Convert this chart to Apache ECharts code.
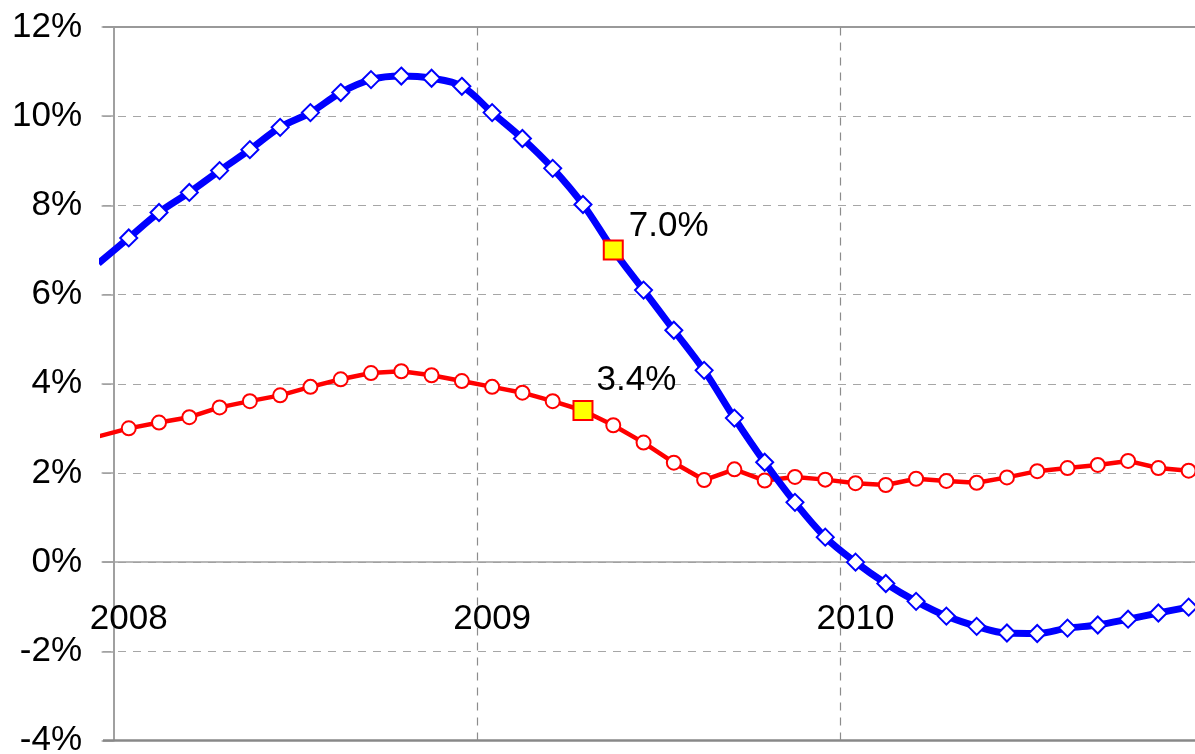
<!DOCTYPE html>
<html>
<head>
<meta charset="utf-8">
<script src="https://cdn.jsdelivr.net/npm/echarts@6/dist/echarts.min.js"></script>
<style>
  html, body { margin: 0; padding: 0; background: #fff; }
  #chart { width: 1195px; height: 754px; }
</style>
</head>
<body>
<div id="chart"></div>
<script>
// Months (Dec 2007 is partly visible at the left edge, clipped by the plot)
const months = [
  '2007-12',
  '2008-01','2008-02','2008-03','2008-04','2008-05','2008-06','2008-07','2008-08','2008-09','2008-10','2008-11','2008-12',
  '2009-01','2009-02','2009-03','2009-04','2009-05','2009-06','2009-07','2009-08','2009-09','2009-10','2009-11','2009-12',
  '2010-01','2010-02','2010-03','2010-04','2010-05','2010-06','2010-07','2010-08','2010-09','2010-10','2010-11','2010-12'
];
// Blue series (%)
const blueValues = [
  6.70,
  7.27, 7.84, 8.29, 8.78, 9.25, 9.75, 10.08, 10.53, 10.82, 10.90, 10.85, 10.67,
  10.08, 9.50, 8.83, 8.02, 7.00, 6.10, 5.20, 4.30, 3.23, 2.24, 1.34, 0.56,
  0.00, -0.48, -0.88, -1.21, -1.44, -1.59, -1.60, -1.48, -1.41, -1.28, -1.14, -1.01
];
// Red series (%)
const redValues = [
  2.82,
  3.00, 3.13, 3.25, 3.47, 3.61, 3.74, 3.93, 4.10, 4.24, 4.28, 4.19, 4.06,
  3.93, 3.80, 3.61, 3.40, 3.07, 2.68, 2.23, 1.84, 2.08, 1.83, 1.91, 1.85,
  1.77, 1.73, 1.87, 1.82, 1.78, 1.90, 2.04, 2.11, 2.18, 2.27, 2.11, 2.05
];
// Highlighted points
const blueHighlightMonth = '2009-05';
const blueHighlightLabel = '7.0%';
const redHighlightMonth = '2009-04';
const redHighlightLabel = '3.4%';
// Axis ticks
const yTicks = [-4, -2, 0, 2, 4, 6, 8, 10, 12];
const yearLabels = ['2008', '2009', '2010'];

// month string -> position in months since Jan 2008 (mid-month)
function monthPos(m) {
  const [y, mo] = m.split('-').map(Number);
  return (y - 2008) * 12 + (mo - 1) + 0.5;
}
const yearStarts = yearLabels.map(y => (Number(y) - 2008) * 12);
const yearLabelPos = yearStarts.map(v => v + 0.5);

const blueData = months.map((m, i) => [monthPos(m), blueValues[i]]);
const redData = months.map((m, i) => [monthPos(m), redValues[i]]);
const bi = months.indexOf(blueHighlightMonth);
const ri = months.indexOf(redHighlightMonth);

const FONT = 'Liberation Sans, Arial, sans-serif';
const chart = echarts.init(document.getElementById('chart'), null, { renderer: 'canvas' });

const gridGray = '#a6a6a6';
const labelStyle = {
  show: true, position: 'right', distance: 5,
  fontFamily: FONT, fontSize: 35, color: '#000000', opacity: 1, textBorderWidth: 0
};
chart.setOption({
  animation: false,
  backgroundColor: '#ffffff',
  grid: { left: 103, right: 0, top: 27, bottom: 13.5, containLabel: false, outerBoundsMode: 'none' },
  xAxis: {
    type: 'value',
    min: -0.35,
    max: 35.71,
    axisLine: { show: true, onZero: true, lineStyle: { color: '#a0a0a0', width: 1.5 } },
    axisTick: { show: false },
    splitLine: { show: false },
    axisLabel: {
      customValues: yearLabelPos,
      formatter: v => String(2008 + Math.floor(v / 12)),
      fontFamily: FONT, fontSize: 35, color: '#000', margin: -139
    }
  },
  yAxis: {
    type: 'value',
    min: yTicks[0],
    max: yTicks[yTicks.length - 1],
    interval: 2,
    axisLine: { show: true, onZero: true, lineStyle: { color: '#a0a0a0', width: 2 } },
    axisTick: { show: true, length: 12, lineStyle: { color: '#a0a0a0', width: 1.5 } },
    axisLabel: {
      formatter: '{value}%',
      fontFamily: FONT, fontSize: 35, color: '#000', margin: 21
    },
    splitLine: { show: true, lineStyle: { color: gridGray, width: 1.2, type: [8, 7] } }
  },
  series: [
    {
      name: 'frame',
      type: 'line',
      data: [],
      silent: true,
      z: 1,
      markLine: {
        silent: true,
        symbol: 'none',
        z: 1,
        label: { show: false },
        animation: false,
        data: [
          { yAxis: yTicks[yTicks.length - 1], lineStyle: { color: '#999', width: 2, type: 'solid' } },
          { yAxis: yTicks[0], lineStyle: { color: '#888', width: 2.5, type: 'solid' } },
          { xAxis: yearStarts[1], lineStyle: { color: '#8c8c8c', width: 1.2, type: [8, 7] } },
          { xAxis: yearStarts[2], lineStyle: { color: '#8c8c8c', width: 1.2, type: [8, 7] } }
        ]
      }
    },
    {
      name: 'red',
      type: 'line',
      data: redData,
      z: 3,
      clip: true,
      symbol: 'circle',
      symbolSize: 14,
      showAllSymbol: true,
      lineStyle: { color: '#ff0000', width: 4.5 },
      itemStyle: { color: '#ffffff', borderColor: '#ff0000', borderWidth: 2 },
      emphasis: { disabled: true }
    },
    {
      name: 'blue',
      type: 'line',
      data: blueData,
      z: 4,
      clip: true,
      smooth: 0.35,
      symbol: 'diamond',
      symbolSize: 17,
      showAllSymbol: true,
      lineStyle: { color: '#0000ff', width: 7 },
      itemStyle: { color: '#ffffff', borderColor: '#0000ff', borderWidth: 2 },
      emphasis: { disabled: true }
    },
    {
      name: 'highlights',
      type: 'scatter',
      z: 6,
      symbol: 'rect',
      symbolSize: 19,
      itemStyle: { color: '#ffff00', borderColor: '#ff0000', borderWidth: 2, opacity: 1 },
      emphasis: { disabled: true },
      label: labelStyle,
      data: [
        { value: blueData[bi], label: Object.assign({}, labelStyle, { formatter: blueHighlightLabel, offset: [0, -24] }) },
        { value: redData[ri], label: Object.assign({}, labelStyle, { formatter: redHighlightLabel, offset: [-2, -30] }) }
      ]
    }
  ]
});
</script>
</body>
</html>
